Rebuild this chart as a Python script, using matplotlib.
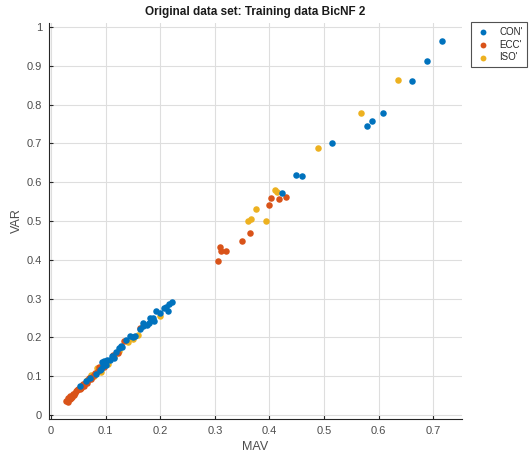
import matplotlib
matplotlib.use("Agg")
import matplotlib.pyplot as plt

plt.rcParams['font.family'] = ['Liberation Sans', 'DejaVu Sans']

# CON' group
con_mav = [0.221, 0.216, 0.211, 0.207, 0.214, 0.192, 0.187, 0.184, 0.189, 0.179,
           0.169, 0.169, 0.162, 0.154, 0.150, 0.144, 0.138, 0.128, 0.124, 0.119,
           0.111, 0.107, 0.102, 0.098, 0.094, 0.101, 0.095, 0.089, 0.083, 0.063,
           0.053, 0.130, 0.115, 0.176, 0.199, 0.072, 0.092, 0.097, 0.182,
           0.424, 0.449, 0.460, 0.515, 0.579, 0.588, 0.609, 0.661, 0.688, 0.717]
con_var = [0.291, 0.286, 0.279, 0.275, 0.268, 0.268, 0.251, 0.245, 0.243, 0.238,
           0.237, 0.230, 0.221, 0.204, 0.201, 0.203, 0.194, 0.179, 0.173, 0.163,
           0.151, 0.143, 0.141, 0.134, 0.138, 0.130, 0.126, 0.115, 0.105, 0.088,
           0.074, 0.176, 0.147, 0.232, 0.262, 0.096, 0.120, 0.140, 0.250,
           0.572, 0.618, 0.616, 0.702, 0.745, 0.757, 0.778, 0.860, 0.913, 0.963]

# ECC' group
ecc_mav = [0.163, 0.133, 0.114, 0.087, 0.080, 0.070, 0.067, 0.058, 0.049, 0.045,
           0.040, 0.035, 0.031, 0.028, 0.031, 0.034, 0.038, 0.043, 0.052, 0.055,
           0.061, 0.075, 0.078, 0.085, 0.097, 0.122, 0.060, 0.047, 0.036, 0.042,
           0.066, 0.073,
           0.306, 0.309, 0.312, 0.320, 0.350, 0.364, 0.400, 0.403, 0.417, 0.431]
ecc_var = [0.225, 0.191, 0.156, 0.123, 0.109, 0.096, 0.091, 0.081, 0.068, 0.062,
           0.055, 0.049, 0.043, 0.037, 0.035, 0.041, 0.047, 0.056, 0.066, 0.071,
           0.076, 0.098, 0.103, 0.113, 0.124, 0.160, 0.080, 0.064, 0.044, 0.052,
           0.084, 0.093,
           0.398, 0.433, 0.422, 0.422, 0.449, 0.469, 0.540, 0.560, 0.556, 0.561]

# ISO' group
iso_mav = [0.199, 0.160, 0.116, 0.084, 0.091, 0.073, 0.065, 0.056, 0.078, 0.105,
           0.140, 0.150, 0.125,
           0.360, 0.367, 0.375, 0.394, 0.410, 0.414, 0.489, 0.567, 0.636]
iso_var = [0.256, 0.207, 0.150, 0.121, 0.112, 0.103, 0.090, 0.078, 0.100, 0.132,
           0.188, 0.196, 0.165,
           0.501, 0.506, 0.530, 0.500, 0.580, 0.575, 0.688, 0.779, 0.864]

group_labels = ["CON'", "ECC'", "ISO'"]
colors = ['#0072BD', '#D95319', '#EDB120']

fig = plt.figure(figsize=(5.32, 4.54), dpi=100)
ax = fig.add_axes([0.0921, 0.0771, 0.7763, 0.8722])

h_iso = ax.scatter(iso_mav, iso_var, s=22, color=colors[2], linewidths=0, zorder=3)
h_ecc = ax.scatter(ecc_mav, ecc_var, s=22, color=colors[1], linewidths=0, zorder=3)
h_con = ax.scatter(con_mav, con_var, s=22, color=colors[0], linewidths=0, zorder=3)

ax.set_xlim(-0.004, 0.753)
ax.set_ylim(-0.01, 1.01)
ax.set_xticks([0, 0.1, 0.2, 0.3, 0.4, 0.5, 0.6, 0.7])
ax.set_xticklabels(['0', '0.1', '0.2', '0.3', '0.4', '0.5', '0.6', '0.7'])
ax.set_yticks([0, 0.1, 0.2, 0.3, 0.4, 0.5, 0.6, 0.7, 0.8, 0.9, 1.0])
ax.set_yticklabels(['0', '0.1', '0.2', '0.3', '0.4', '0.5', '0.6', '0.7', '0.8', '0.9', '1'])
ax.grid(True, color='#dedede', linewidth=0.8, zorder=0)
ax.set_axisbelow(True)
for s in ['top', 'right']:
    ax.spines[s].set_visible(False)
for s in ['left', 'bottom']:
    ax.spines[s].set_color('#262626')
    ax.spines[s].set_linewidth(0.8)
ax.tick_params(direction='in', length=3, width=0.8, colors='#262626',
               labelsize=8, labelcolor='#4d4d4d', pad=5)

ax.set_xlabel('MAV', fontsize=9, color='#4d4d4d', labelpad=4)
ax.set_ylabel('VAR', fontsize=9, color='#4d4d4d', labelpad=3)
ax.set_title('Original data set: Training data BicNF 2', fontsize=8.5,
             fontweight='bold', color='#1a1a1a', pad=6)

leg = fig.legend([h_con, h_ecc, h_iso], group_labels, loc='upper left',
                 bbox_to_anchor=(0.885, 0.951), fontsize=7, frameon=True,
                 fancybox=False, edgecolor='#262626', handletextpad=0.8,
                 borderpad=0.45, labelspacing=0.3, handlelength=1.7,
                 borderaxespad=0.0, markerscale=0.9)
leg.get_frame().set_linewidth(0.8)
for t in leg.get_texts():
    t.set_color('#262626')

fig.savefig('out.png', dpi=100)
